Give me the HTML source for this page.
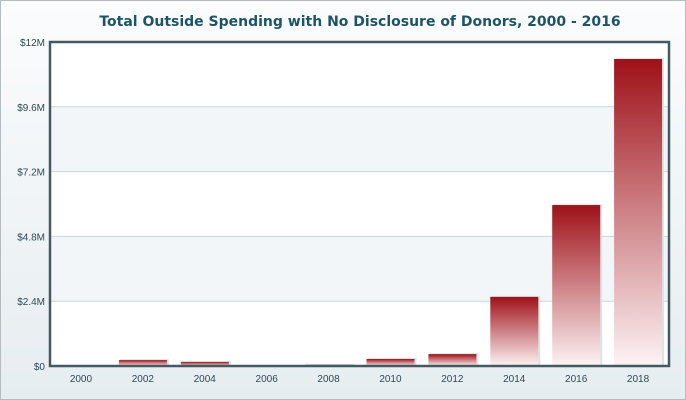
<!DOCTYPE html>
<html><head><meta charset="utf-8"><style>
body{margin:0;width:686px;height:400px;overflow:hidden;font-family:"Liberation Sans","DejaVu Sans",sans-serif}
#wrap{position:absolute;left:0;top:0;width:684px;height:398px;border:1px solid #b5bcbf;background:linear-gradient(#fbfcfd,#e6edf0)}
</style></head><body>
<div id="wrap">
<svg id="chart" width="686" height="400" style="position:absolute;left:-1px;top:-1px">
<defs><linearGradient id="g" x1="0" y1="0" x2="0" y2="1"><stop offset="0" stop-color="#9e1118"/><stop offset="1" stop-color="#fdf3f4"/></linearGradient></defs>
<text x="360" y="26" text-anchor="middle" font-size="14" font-weight="bold" fill="#1d5566" font-family="DejaVu Sans, sans-serif">Total Outside Spending with No Disclosure of Donors, 2000 - 2016</text>
</svg></div>
<script>
const categories=["2000","2002","2004","2006","2008","2010","2012","2014","2016","2018"];
const values=[0,0.22,0.15,0,0.04,0.26,0.44,2.56,5.96,11.37];
const ticks=[0,2.4,4.8,7.2,9.6,12];
const tickLabels=["$0","$2.4M","$4.8M","$7.2M","$9.6M","$12M"];
const NS="http://www.w3.org/2000/svg",svg=document.getElementById('chart');
const L=50,R=669,T=42,B=366,maxV=12;
const y=v=>B-(v/maxV)*(B-T);
const bw=(R-L)/categories.length;
const x=i=>L+i*bw;
function mk(t,a){const e=document.createElementNS(NS,t);for(const k in a)e.setAttribute(k,a[k]);svg.appendChild(e);return e;}
for(let i=0;i<ticks.length-1;i++){
 const r=mk('rect',{x:L,y:y(ticks[i+1]),width:R-L,height:y(ticks[i])-y(ticks[i+1]),fill:i%2?'#f2f6f8':'#ffffff'});
 
 
}
ticks.forEach((t,i)=>{
 if(i>0&&i<ticks.length-1){const g=mk('line',{x1:L,x2:R,y1:y(t),y2:y(t),stroke:'#c5d8dc','stroke-width':1});
 
 }
 const tx=mk('text',{x:45,y:y(t)+4,'text-anchor':'end','font-size':10,fill:'#2d4a55'});
 tx.textContent=tickLabels[i];
 
 
});
categories.forEach((c,i)=>{
 const v=values[i];
 if(v>0){
  const bx=x(i)+7,w=48,top=y(v);
  const sh=mk('rect',{x:bx+1,y:top-1,width:w+1,height:B-top+1,fill:'#dde3e6'});
  
  
  const b=mk('rect',{x:bx,y:top,width:w,height:B-top,fill:'url(#g)'});
  
  
 }
 const t=mk('text',{x:x(i)+bw/2,y:382,'text-anchor':'middle','font-size':10,fill:'#2d4a55'});
 t.textContent=c;
 
 
});
const ax=mk('path',{d:`M${L},${B} L${L},${T} L${R},${T} L${R},${B} Z`,fill:'none',stroke:'#435a63','stroke-width':2.5});


const tt=svg.querySelector('text');svg.appendChild(tt);
</script>
</body></html>
